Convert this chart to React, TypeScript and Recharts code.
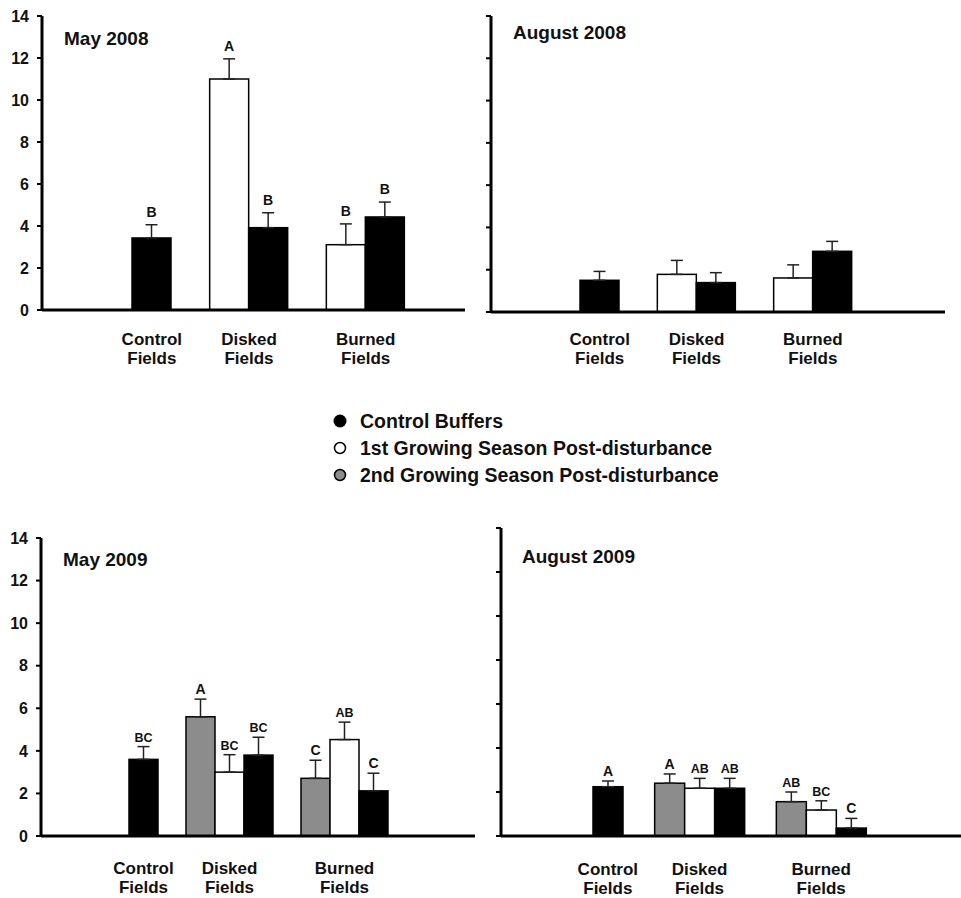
import React from 'react';
import { BarChart, Bar, XAxis, YAxis, ErrorBar } from 'recharts';

const FONT = '"Liberation Sans", Arial, Helvetica, sans-serif';

const categories = ['Control Fields', 'Disked Fields', 'Burned Fields'];
const seriesNames = [
  'Control Buffers',
  '1st Growing Season Post-disturbance',
  '2nd Growing Season Post-disturbance',
];
const seriesFills = ['#000000', '#ffffff', '#8c8c8c'];
const yTicks = [0, 2, 4, 6, 8, 10, 12, 14];

// May 2008
const may08First = [null, 11.0, 3.11];
const may08FirstErr = [null, 0.96, 0.99];
const may08FirstSig = ['', 'A', 'B'];
const may08Buffer = [3.43, 3.92, 4.43];
const may08BufferErr = [0.63, 0.71, 0.71];
const may08BufferSig = ['B', 'B', 'B'];

// August 2008
const aug08First = [null, 1.78, 1.61];
const aug08FirstErr = [null, 0.66, 0.62];
const aug08Buffer = [1.5, 1.39, 2.87];
const aug08BufferErr = [0.42, 0.47, 0.47];

// May 2009
const may09Second = [null, 5.6, 2.71];
const may09SecondErr = [null, 0.83, 0.85];
const may09SecondSig = ['', 'A', 'C'];
const may09First = [null, 3.0, 4.53];
const may09FirstErr = [null, 0.82, 0.82];
const may09FirstSig = ['', 'BC', 'AB'];
const may09Buffer = [3.6, 3.8, 2.12];
const may09BufferErr = [0.6, 0.84, 0.83];
const may09BufferSig = ['BC', 'BC', 'C'];

// August 2009
const aug09Second = [null, 2.4, 1.56];
const aug09SecondErr = [null, 0.42, 0.44];
const aug09SecondSig = ['', 'A', 'AB'];
const aug09First = [null, 2.17, 1.18];
const aug09FirstErr = [null, 0.45, 0.42];
const aug09FirstSig = ['', 'AB', 'BC'];
const aug09Buffer = [2.24, 2.17, 0.36];
const aug09BufferErr = [0.26, 0.45, 0.44];
const aug09BufferSig = ['A', 'AB', 'C'];

type Series = {
  key: string;
  fill: string;
  values: (number | null)[];
  errs: (number | null)[];
  sig?: string[];
};

const buffer = (values: (number | null)[], errs: (number | null)[], sig?: string[]): Series => ({
  key: 'buffer', fill: seriesFills[0], values, errs, sig,
});
const first = (values: (number | null)[], errs: (number | null)[], sig?: string[]): Series => ({
  key: 'first', fill: seriesFills[1], values, errs, sig,
});
const second = (values: (number | null)[], errs: (number | null)[], sig?: string[]): Series => ({
  key: 'second', fill: seriesFills[2], values, errs, sig,
});

const buildRows = (series: Series[]) =>
  categories.map((cat, i) => {
    const row: Record<string, any> = { cat };
    series.forEach((s) => {
      row[s.key] = s.values[i];
      row[s.key + 'Err'] = s.errs[i] == null ? undefined : [0, s.errs[i]];
      row[s.key + 'Sig'] = s.sig ? s.sig[i] : '';
    });
    return row;
  });

const makeShape = (s: Series, sigGap: number, sigSize: number) => (props: any) => {
  const { x, y, width, height, payload } = props;
  const v = payload[s.key];
  const e = payload[s.key + 'Err'];
  const letter = payload[s.key + 'Sig'];
  const unit = v ? height / v : 0;
  const top = y - (e ? e[1] * unit : 0);
  return (
    <g>
      <rect x={x} y={y} width={width} height={height} fill={s.fill} stroke="#000" strokeWidth={1.5} />
      {letter ? (
        <text
          x={x + width / 2}
          y={top - sigGap}
          textAnchor="middle"
          fontFamily={FONT}
          fontWeight="bold"
          fontSize={letter.length > 1 ? sigSize - 1.5 : sigSize}
          fill="#111"
        >
          {letter}
        </text>
      ) : null}
    </g>
  );
};

type PanelProps = {
  left: number;
  top: number;
  width: number;
  height: number;
  plotTop: number;
  plotBottom: number;
  axisX: number;
  axisEnd: number;
  padL: number;
  padR: number;
  barSize: number;
  series: Series[];
  showYLabels: boolean;
  sigGap: number;
  sigSize: number;
  labelDy: number;
};

const Panel = (p: PanelProps) => {
  const rows = buildRows(p.series);
  const n = p.series.length;
  const shifts = categories.map((_, i) => {
    const present = p.series.map((s, j) => (s.values[i] == null ? null : j)).filter((j) => j != null) as number[];
    if (!present.length) return 0;
    return present.reduce((acc, j) => acc + (j - (n - 1) / 2) * p.barSize, 0) / present.length;
  });
  const renderTick = (t: any) => {
    const [l1, l2] = String(t.payload.value).split(' ');
    const sx = t.x + (shifts[t.payload.index] ?? 0);
    const common = { textAnchor: 'middle' as const, fontFamily: FONT, fontWeight: 'bold', fontSize: 17, fill: '#111' };
    return (
      <g>
        <text x={sx} y={t.y + p.labelDy} {...common}>{l1}</text>
        <text x={sx} y={t.y + p.labelDy + 19} {...common}>{l2}</text>
      </g>
    );
  };
  const yTick = p.showYLabels
    ? { fontFamily: FONT, fontWeight: 'bold', fontSize: 16, fill: '#111' }
    : () => <g />;
  return (
    <div style={{ position: 'absolute', left: p.left, top: p.top }}>
      <BarChart
        width={p.width}
        height={p.height}
        data={rows}
        barGap={0}
        barSize={p.barSize}
        margin={{ top: p.plotTop, right: p.width - p.axisEnd, left: 0, bottom: 0 }}
      >
        <YAxis
          type="number"
          domain={[0, 14]}
          ticks={yTicks}
          interval={0}
          width={p.axisX}
          axisLine={{ stroke: '#000', strokeWidth: 3 }}
          tickLine={{ stroke: '#000', strokeWidth: 2 }}
          tickSize={5}
          tickMargin={8}
          tick={yTick}
        />
        <XAxis
          dataKey="cat"
          type="category"
          height={p.height - p.plotBottom}
          padding={{ left: p.padL, right: p.padR }}
          axisLine={{ stroke: '#000', strokeWidth: 3 }}
          tickLine={false}
          tickSize={0}
          tickMargin={0}
          interval={0}
          tick={renderTick}
        />
        {p.series.map((s) => (
          <Bar
            key={s.key}
            dataKey={s.key}
            fill={s.fill}
            isAnimationActive={false}
            shape={makeShape(s, p.sigGap, p.sigSize)}
          >
            <ErrorBar
              dataKey={s.key + 'Err'}
              direction="y"
              width={6}
              stroke="#222"
              strokeWidth={1.5}
              isAnimationActive={false}
            />
          </Bar>
        ))}
      </BarChart>
    </div>
  );
};

const titles = [
  { text: 'May 2008', x: 64, y: 45 },
  { text: 'August 2008', x: 513, y: 39 },
  { text: 'May 2009', x: 63, y: 566 },
  { text: 'August 2009', x: 522, y: 563 },
];

const legendOrder = [0, 1, 2];

export default function App() {
  return (
    <div style={{ position: 'absolute', left: 0, top: 0, width: 961, height: 898, background: '#fff', overflow: 'hidden' }}>
      <Panel
        left={0} top={0} width={480} height={380}
        plotTop={16} plotBottom={310} axisX={42} axisEnd={465}
        padL={32} padR={41} barSize={39}
        series={[first(may08First, may08FirstErr, may08FirstSig), buffer(may08Buffer, may08BufferErr, may08BufferSig)]}
        showYLabels sigGap={8} sigSize={14} labelDy={35}
      />
      <Panel
        left={480} top={0} width={481} height={380}
        plotTop={16} plotBottom={312} axisX={11} axisEnd={465}
        padL={31} padR={74} barSize={39}
        series={[first(aug08First, aug08FirstErr), buffer(aug08Buffer, aug08BufferErr)]}
        showYLabels={false} sigGap={8} sigSize={14} labelDy={33}
      />
      <Panel
        left={0} top={520} width={480} height={378}
        plotTop={18} plotBottom={316} axisX={41} axisEnd={475}
        padL={16} padR={73} barSize={29}
        series={[
          second(may09Second, may09SecondErr, may09SecondSig),
          first(may09First, may09FirstErr, may09FirstSig),
          buffer(may09Buffer, may09BufferErr, may09BufferSig),
        ]}
        showYLabels sigGap={5} sigSize={14} labelDy={38}
      />
      <Panel
        left={480} top={520} width={481} height={378}
        plotTop={8} plotBottom={316} axisX={21} axisEnd={481}
        padL={16} padR={79} barSize={30}
        series={[
          second(aug09Second, aug09SecondErr, aug09SecondSig),
          first(aug09First, aug09FirstErr, aug09FirstSig),
          buffer(aug09Buffer, aug09BufferErr, aug09BufferSig),
        ]}
        showYLabels={false} sigGap={5} sigSize={14} labelDy={39}
      />
      <svg width={961} height={898} style={{ position: 'absolute', left: 0, top: 0, pointerEvents: 'none' }}>
        {titles.map((t) => (
          <text key={t.text} x={t.x} y={t.y} fontFamily={FONT} fontWeight="bold" fontSize={19} fill="#111">
            {t.text}
          </text>
        ))}
        {legendOrder.map((idx, i) => (
          <g key={seriesNames[idx]}>
            <circle
              cx={340}
              cy={421 + i * 27}
              r={idx === 0 ? 6.5 : 5.5}
              fill={seriesFills[idx]}
              stroke="#000"
              strokeWidth={idx === 0 ? 0 : 1.5}
            />
            <text x={360} y={428 + i * 27} fontFamily={FONT} fontWeight="bold" fontSize={19.5} fill="#111">
              {seriesNames[idx]}
            </text>
          </g>
        ))}
      </svg>
    </div>
  );
}
